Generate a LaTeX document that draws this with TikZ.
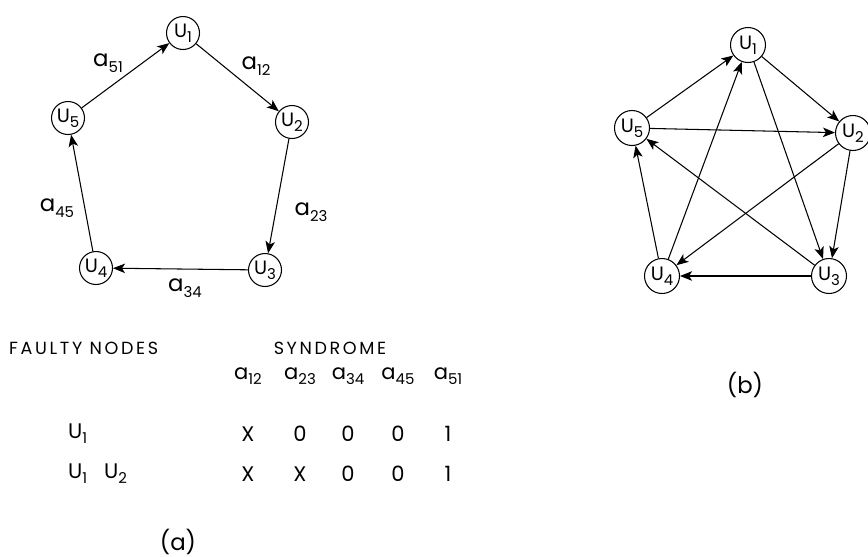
\documentclass[tikz,border=0pt]{standalone}
\usepackage{fontspec}
\setmainfont{Poppins}
\usepackage{tikz}
\usetikzlibrary{arrows.meta, positioning}

\newcommand\idx[1]{\raisebox{-0.45ex}{\fontsize{8.5}{8.5}\selectfont #1}}

\begin{document}
\begin{tikzpicture}[
  x=0.02cm, y=-0.02cm,
  font=\fontsize{11}{12}\selectfont,
  vertex/.style = {circle, draw, line width=0.6pt, minimum size=0.66cm,
                   inner sep=0pt},
  arc/.style    = {-{Stealth[length=2.4mm, width=1.9mm, inset=0.6mm]},
                   line width=0.6pt},
  lbl/.style    = {font=\fontsize{13}{13}\selectfont},
  cell/.style   = {font=\fontsize{12}{12}\selectfont},
  title/.style  = {font=\fontsize{10}{10}\selectfont}
]
\useasboundingbox (0,0) rectangle (868,556);

% ---------- (a) ring ----------
\node[vertex] (a1) at (183,33)  {U\idx{1}};
\node[vertex] (a2) at (292,122) {U\idx{2}};
\node[vertex] (a3) at (265,270) {U\idx{3}};
\node[vertex] (a4) at (96,268)  {U\idx{4}};
\node[vertex] (a5) at (68,118)  {U\idx{5}};

\foreach \s/\t in {a1/a2, a2/a3, a3/a4, a4/a5, a5/a1}
  \draw[arc] (\s) -- (\t);

\node[lbl] (l51) at (108,63)  {a\idx{51}};
\node[lbl] (l12) at (256,66)  {a\idx{12}};
\node[lbl] (l23) at (311,212) {a\idx{23}};
\node[lbl] (l45) at (57,208)  {a\idx{45}};
\node[lbl] (l34) at (185,288) {a\idx{34}};

% ---------- syndrome table ----------
\node[title, anchor=west] (faulty) at (3,348)
  {\addfontfeatures{LetterSpace=15}FAULTY NODES};
\node[title] (synd) at (330,348)
  {\addfontfeatures{LetterSpace=15}SYNDROME};

\coordinate (rowh) at (0,376);
\coordinate (rowa) at (0,434);
\coordinate (rowb) at (0,474);

\foreach \lab/\x [count=\i] in {12/248, 23/300, 34/348, 45/398, 51/448}
  \node[cell] (h\i) at (\x,376) {a\idx{\lab}};

\node[cell, anchor=west] (fa) at (62,434) {U\idx{1}};
\node[cell, anchor=west] (fb) at (62,474) {U\idx{1}\hspace{0.8em}U\idx{2}};

\foreach \v [count=\i] in {X,0,0,0,1}
  \node[cell] (r\i) at (h\i |- rowa) {\v};
\foreach \v [count=\i] in {X,X,0,0,1}
  \node[cell] (s\i) at (h\i |- rowb) {\v};

\node[lbl] (capa) at (178,542) {(a)};

% ---------- (b) full graph ----------
\node[vertex, minimum size=0.7cm] (b1) at (748,45)  {U\idx{1}};
\node[vertex, minimum size=0.7cm] (b2) at (853,133) {U\idx{2}};
\node[vertex, minimum size=0.7cm] (b3) at (829,276) {U\idx{3}};
\node[vertex, minimum size=0.7cm] (b4) at (662,276) {U\idx{4}};
\node[vertex, minimum size=0.7cm] (b5) at (632,128) {U\idx{5}};

\foreach \s/\t in {b1/b2, b2/b3, b3/b4, b4/b5, b5/b1,
                   b1/b3, b2/b4, b3/b5, b4/b1, b5/b2}
  \draw[arc] (\s) -- (\t);

\node[lbl] (capb) at (745,385) {(b)};

\end{tikzpicture}
\end{document}
